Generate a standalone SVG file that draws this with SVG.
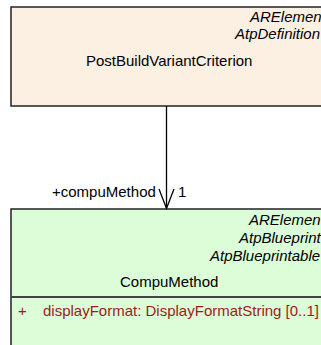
<svg xmlns="http://www.w3.org/2000/svg" width="321" height="345" viewBox="0 0 321 345">
<style>
text{font-family:"Liberation Sans",Arial,sans-serif;font-size:15px;fill:#000}
.st{font-style:italic}
.attr{fill:#9B1C1C}
.box{stroke:#222;stroke-width:1.5}
.conn{stroke:#000;stroke-width:1.3;fill:none}
</style>
<g id="PostBuildVariantCriterion">
<rect class="box" x="11" y="7" width="330" height="99" fill="#FBF0E1"/>
<text class="st" x="250" y="22">ARElement</text>
<text class="st" x="235" y="39">AtpDefinition</text>
<text x="86" y="66">PostBuildVariantCriterion</text>
</g>
<g id="CompuMethod">
<rect class="box" x="11" y="209" width="330" height="150" fill="#DBFDD8"/>
<text class="st" x="249" y="225">ARElement</text>
<text class="st" x="239" y="243">AtpBlueprint</text>
<text class="st" x="210" y="261">AtpBlueprintable</text>
<text x="120" y="287">CompuMethod</text>
<line x1="11" y1="297" x2="321" y2="297" stroke="#444" stroke-width="2"/>
<text class="attr" x="18" y="316">+</text>
<text class="attr" x="43" y="316">displayFormat: DisplayFormatString [0..1]</text>
</g>
<g id="connectors">
<line class="conn" x1="166.5" y1="106" x2="166.5" y2="208"/>
<polyline class="conn" points="159,189 166.5,208.5 174,189"/>
<text x="52" y="197">+compuMethod</text>
<text x="178" y="197">1</text>
</g>
</svg>
